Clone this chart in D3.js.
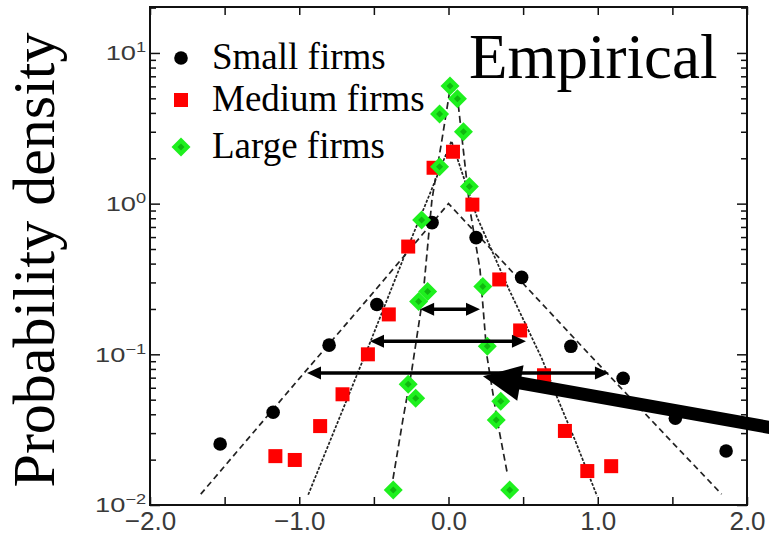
<!DOCTYPE html>
<html>
<head>
<meta charset="utf-8">
<script src="https://cdn.jsdelivr.net/npm/d3@7"></script>
<style>
  body { margin: 0; background: #fff; }
  svg { display: block; }
</style>
</head>
<body>
<svg id="chart"></svg>
<script>
// ---- data ----
const seriesNames = ["Small firms", "Medium firms", "Large firms"];

const smallX = [-1.53, -1.175, -0.80, -0.48, -0.11, 0.185, 0.49, 0.82, 1.17, 1.52, 1.86];
const smallY = [0.0254, 0.0413, 0.115, 0.214, 0.748, 0.595, 0.324, 0.113, 0.0693, 0.0377, 0.0228];

const mediumX = [-1.16, -1.03, -0.86, -0.71, -0.54, -0.40, -0.27, -0.10, 0.03, 0.16, 0.34, 0.48, 0.64, 0.78, 0.93, 1.09];
const mediumY = [0.0211, 0.0199, 0.0334, 0.0543, 0.100, 0.184, 0.519, 1.73, 2.21, 0.985, 0.314, 0.144, 0.0726, 0.031, 0.0168, 0.0181];

const largeX = [-0.37, -0.27, -0.22, -0.20, -0.14, -0.18, -0.06, -0.06, 0.01, 0.06, 0.10, 0.14, 0.23, 0.26, 0.32, 0.35, 0.41];
const largeY = [0.0126, 0.0633, 0.0511, 0.224, 0.261, 0.78, 1.76, 3.94, 6.04, 4.96, 3.0, 1.30, 0.282, 0.113, 0.0366, 0.0488, 0.0126];

// fitted curves (dashed)
const smallFitX = [-1.66, -1.0, -0.5, 0, 0.5, 1.0, 1.5, 1.83];
const smallFitY = [0.0118, 0.069, 0.26, 1.0, 0.295, 0.087, 0.026, 0.0118];
const mediumFitX = [-0.94, -0.525, -0.27, 0.02, 0.19, 0.405, 0.627, 0.727, 0.854, 0.995];
const mediumFitY = [0.0117, 0.12, 0.52, 2.6, 0.82, 0.27, 0.093, 0.052, 0.026, 0.0115];
const largeFitX = [-0.372, -0.305, -0.245, -0.171, -0.111, -0.044, 0.02, 0.064, 0.144, 0.211, 0.258, 0.325, 0.392];
const largeFitY = [0.0149, 0.0371, 0.0796, 0.242, 1.06, 2.65, 6.6, 4.67, 0.912, 0.366, 0.097, 0.0371, 0.0166];

// width arrows
const arrowLevel = [0.199, 0.122, 0.0751];
const arrowLeft = [-0.19, -0.526, -0.948];
const arrowRight = [0.211, 0.519, 1.075];
// big pointer arrow (from, to)
const pointerX = [2.29, 0.231];
const pointerY = [0.0309, 0.0715];

const xTicks = [-2, -1.5, -1, -0.5, 0, 0.5, 1, 1.5, 2];
const xLabels = [-2, -1, 0, 1, 2];
const yMajor = [0.01, 0.1, 1, 10];
const yExp = ["\u22122", "\u22121", "0", "1"];

// ---- layout ----
const W = 769, H = 539;
const margin = { top: 7, right: 22, bottom: 34, left: 150 };
const width = W - margin.left - margin.right;
const height = H - margin.top - margin.bottom;

const svg = d3.select("#chart").attr("width", W).attr("height", H);
const g = svg.append("g").attr("transform", `translate(${margin.left},${margin.top})`);

const xScale = d3.scaleLinear().domain([-2, 2]).range([0, width]);
const yScale = d3.scaleLog().domain([0.01, Math.pow(10, 1.305)]).range([height, 0]);

// minor log ticks
const yMinor = [];
[0.01, 0.1, 1, 10].forEach(d => {
    for (let k = 2; k <= 9; k++) {
        if (d * k < yScale.domain()[1]) yMinor.push(d * k);
    }
});

const serif = "'Liberation Serif', 'Times New Roman', Times, serif";
const sans = "'Liberation Sans', Arial, Helvetica, sans-serif";

// ---- axes ----
function styleAxis(sel) {
    sel.select(".domain").remove();
    sel.selectAll("line").attr("stroke", "#111").attr("stroke-width", 1.5);
}

g.append("g").call(d3.axisLeft(yScale).tickValues(yMinor).tickSize(-6).tickFormat("")).call(styleAxis);
g.append("g").attr("transform", `translate(${width},0)`)
    .call(d3.axisRight(yScale).tickValues(yMinor).tickSize(-6).tickFormat("")).call(styleAxis);
g.append("g").attr("transform", `translate(${width},0)`)
    .call(d3.axisRight(yScale).tickValues(yMajor).tickSize(-10).tickFormat("")).call(styleAxis);

const yAxis = g.append("g")
    .call(d3.axisLeft(yScale).tickValues(yMajor).tickSize(-10).tickPadding(3).tickFormat(""))
    .call(styleAxis);

yAxis.selectAll(".tick text")
    .attr("font-family", sans)
    .attr("font-size", 21)
    .attr("fill", "#3a3a3a")
    .attr("transform", "scale(1.3,1)")
    .each(function(d, i) {
        const t = d3.select(this);
        t.append("tspan").text("10");
        t.append("tspan").attr("dy", -8).attr("font-size", 14).text(yExp[i]);
    });

g.append("g").attr("transform", `translate(0,${height})`)
    .call(d3.axisBottom(xScale).tickValues(xTicks).tickSize(-8).tickFormat("")).call(styleAxis);
g.append("g")
    .call(d3.axisTop(xScale).tickValues(xTicks).tickSize(-8).tickFormat("")).call(styleAxis);

g.append("g").attr("transform", `translate(0,${height})`)
    .call(d3.axisBottom(xScale).tickValues(xLabels).tickSize(0).tickPadding(7).tickFormat(d3.format(".1f")))
    .call(sel => sel.select(".domain").remove())
    .selectAll("text")
    .attr("font-family", sans)
    .attr("font-size", 26)
    .attr("fill", "#3a3a3a");

g.append("rect")
    .attr("width", width).attr("height", height)
    .attr("fill", "none").attr("stroke", "#111").attr("stroke-width", 2);

// ---- fitted curves ----
const line = d3.line().x(d => xScale(d[0])).y(d => yScale(d[1]));
const fits = [
    { xs: smallFitX, ys: smallFitY, dash: "6,4" },
    { xs: mediumFitX, ys: mediumFitY, dash: "3,1.5" },
    { xs: largeFitX, ys: largeFitY, dash: "7,4" }
];
fits.forEach(f => {
    g.append("path")
        .datum(d3.zip(f.xs, f.ys))
        .attr("d", line)
        .attr("fill", "none")
        .attr("stroke", "#222")
        .attr("stroke-width", 1.7)
        .attr("stroke-dasharray", f.dash);
});

// ---- markers ----
function drawCircle(sel, r) {
    sel.append("circle").attr("r", r).attr("fill", "#000");
}
function drawSquare(sel, s) {
    sel.append("rect").attr("x", -s / 2).attr("y", -s / 2).attr("width", s).attr("height", s).attr("fill", "#ff0000");
}
function drawDiamond(sel, r) {
    sel.append("path").attr("d", `M0,${-r}L${r},0L0,${r}L${-r},0Z`).attr("fill", "#1ef01e");
    sel.append("path").attr("d", `M0,-3.5L3.5,0L0,3.5L-3.5,0Z`).attr("fill", "#10b810");
}

g.append("g").selectAll("g")
    .data(d3.zip(smallX, smallY))
    .join("g")
    .attr("transform", d => `translate(${xScale(d[0])},${yScale(d[1])})`)
    .each(function() { drawCircle(d3.select(this), 6.8); });

g.append("g").selectAll("g")
    .data(d3.zip(mediumX, mediumY))
    .join("g")
    .attr("transform", d => `translate(${xScale(d[0])},${yScale(d[1])})`)
    .each(function() { drawSquare(d3.select(this), 14); });

g.append("g").selectAll("g")
    .data(d3.zip(largeX, largeY))
    .join("g")
    .attr("transform", d => `translate(${xScale(d[0])},${yScale(d[1])})`)
    .each(function() { drawDiamond(d3.select(this), 9.5); });

// ---- arrows ----
function arrowHead(tip, from, len, halfW) {
    const dx = tip[0] - from[0], dy = tip[1] - from[1];
    const L = Math.hypot(dx, dy);
    const ux = dx / L, uy = dy / L;
    const bx = tip[0] - ux * len, by = tip[1] - uy * len;
    return `M${tip[0]},${tip[1]}L${bx - uy * halfW},${by + ux * halfW}L${bx + uy * halfW},${by - ux * halfW}Z`;
}

const arrows = g.append("g");
arrowLevel.forEach((lv, i) => {
    const y = yScale(lv);
    const a = [xScale(arrowLeft[i]), y], b = [xScale(arrowRight[i]), y];
    arrows.append("line")
        .attr("x1", a[0] + 10).attr("x2", b[0] - 10).attr("y1", y).attr("y2", y)
        .attr("stroke", "#000").attr("stroke-width", 3.5);
    arrows.append("path").attr("d", arrowHead(a, b, 14, 6.5)).attr("fill", "#000");
    arrows.append("path").attr("d", arrowHead(b, a, 14, 6.5)).attr("fill", "#000");
});

const pFrom = [xScale(pointerX[0]), yScale(pointerY[0])];
const pTo = [xScale(pointerX[1]), yScale(pointerY[1])];
{
    const dx = pTo[0] - pFrom[0], dy = pTo[1] - pFrom[1];
    const L = Math.hypot(dx, dy);
    const end = [pTo[0] - dx / L * 30, pTo[1] - dy / L * 30];
    svg.append("line")
        .attr("transform", `translate(${margin.left},${margin.top})`)
        .attr("x1", pFrom[0]).attr("y1", pFrom[1]).attr("x2", end[0]).attr("y2", end[1])
        .attr("stroke", "#000").attr("stroke-width", 13);
    svg.append("path")
        .attr("transform", `translate(${margin.left},${margin.top})`)
        .attr("d", arrowHead(pTo, pFrom, 38, 18)).attr("fill", "#000");
}

// ---- legend ----
const legendY = [58, 100, 147];
const legend = svg.append("g");
seriesNames.forEach((name, i) => {
    const row = legend.append("g").attr("transform", `translate(181,${legendY[i]})`);
    if (i === 0) drawCircle(row, 6.8);
    if (i === 1) drawSquare(row, 14);
    if (i === 2) drawDiamond(row, 9.5);
    row.append("text")
        .attr("x", 31).attr("y", 11)
        .attr("font-family", serif).attr("font-size", 37)
        .attr("fill", "#000")
        .text(name);
});

// ---- titles ----
svg.append("text")
    .attr("x", 469).attr("y", 78)
    .attr("font-family", serif).attr("font-size", 63)
    .attr("fill", "#000")
    .text("Empirical");

svg.append("text")
    .attr("transform", "translate(54,260) rotate(-90)")
    .attr("text-anchor", "middle")
    .attr("font-family", serif).attr("font-size", 60)
    .attr("fill", "#000")
    .text("Probability density");
</script>
</body>
</html>
